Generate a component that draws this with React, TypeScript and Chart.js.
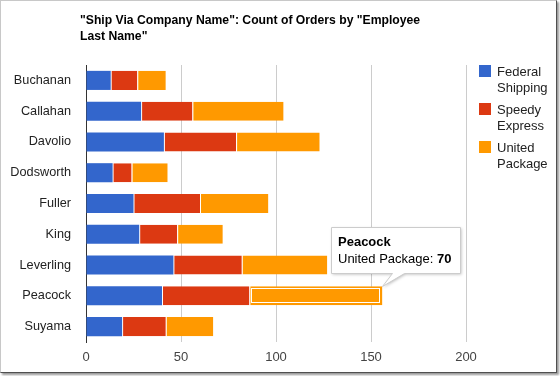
import React, { useEffect, useRef } from "react";
import { Chart, registerables } from "chart.js";

Chart.register(...registerables);

const titleLines = ['"Ship Via Company Name": Count of Orders by "Employee', 'Last Name"'];
const categories = ["Buchanan", "Callahan", "Davolio", "Dodsworth", "Fuller", "King", "Leverling", "Peacock", "Suyama"];
const federalShipping = [13, 29, 41, 14, 25, 28, 46, 40, 19];
const speedyExpress = [14, 27, 38, 10, 35, 20, 36, 46, 23];
const unitedPackage = [15, 48, 44, 19, 36, 24, 45, 70, 25];
const seriesNames = [["Federal", "Shipping"], ["Speedy", "Express"], ["United", "Package"]];
const seriesColors = ["#3366cc", "#dc3912", "#ff9900"];
const xTicks = [0, 50, 100, 150, 200];
const highlightSeries = 2;
const highlightIndex = 7;

const FONT = "Arial, 'Liberation Sans', sans-serif";

const overlayPlugin = {
  id: "overlay",
  afterDraw(chart: any) {
    const ctx = chart.ctx;
    ctx.save();
    // title
    ctx.fillStyle = "#000";
    ctx.font = `bold 12.2px ${FONT}`;
    ctx.textBaseline = "middle";
    ctx.textAlign = "left";
    titleLines.forEach((l, i) => ctx.fillText(l, 80, 21 + i * 16));
    // legend
    ctx.font = `13px ${FONT}`;
    seriesNames.forEach((lines, i) => {
      const y0 = 65 + i * 38;
      ctx.fillStyle = seriesColors[i];
      ctx.fillRect(479, y0, 12, 12);
      ctx.fillStyle = "#222";
      lines.forEach((l, j) => ctx.fillText(l, 497, y0 + 7 + j * 16));
    });
    // highlight
    const el = chart.getDatasetMeta(highlightSeries).data[highlightIndex];
    if (el) {
      const p = el.getProps(["x", "y", "base", "height"], true);
      const left = Math.min(p.x, p.base);
      const right = Math.max(p.x, p.base);
      const top = p.y - p.height / 2;
      const bottom = p.y + p.height / 2;
      ctx.strokeStyle = "#fff";
      ctx.lineWidth = 1;
      ctx.strokeRect(Math.round(left) + 2.5, Math.round(top) + 2.5, Math.round(right - left) - 5, Math.round(bottom - top) - 5);
      // tooltip
      const value = unitedPackage[highlightIndex];
      const bx = 331, by = 227, bw = 129, bh = 46;
      const tipX = Math.round(right), tipY = Math.round(top);
      ctx.shadowColor = "rgba(0,0,0,0.25)";
      ctx.shadowBlur = 3;
      ctx.shadowOffsetX = 1;
      ctx.shadowOffsetY = 1;
      ctx.beginPath();
      ctx.moveTo(bx + 0.5, by + 0.5);
      ctx.lineTo(bx + bw + 0.5, by + 0.5);
      ctx.lineTo(bx + bw + 0.5, by + bh + 0.5);
      ctx.lineTo(404.5, by + bh + 0.5);
      ctx.lineTo(tipX + 0.5, tipY + 0.5);
      ctx.lineTo(392.5, by + bh + 0.5);
      ctx.lineTo(bx + 0.5, by + bh + 0.5);
      ctx.closePath();
      ctx.fillStyle = "#fff";
      ctx.fill();
      ctx.shadowColor = "transparent";
      ctx.strokeStyle = "#cccccc";
      ctx.stroke();
      ctx.fillStyle = "#000";
      ctx.font = `bold 13px ${FONT}`;
      ctx.fillText(categories[highlightIndex], 338, 242);
      ctx.font = `13px ${FONT}`;
      const label = `${seriesNames[highlightSeries].join(" ")}: `;
      ctx.fillText(label, 338, 259);
      const w = ctx.measureText(label).width;
      ctx.font = `bold 13px ${FONT}`;
      ctx.fillText(String(value), 338 + w, 259);
    }
    ctx.restore();
  },
};

export default function App() {
  const ref = useRef<HTMLCanvasElement | null>(null);
  useEffect(() => {
    if (!ref.current) return;
    const mk = (label: string, data: number[], i: number) => ({
      label,
      data,
      backgroundColor: seriesColors[i],
      borderColor: "#ffffff",
      borderWidth: i === 0 ? 0 : { left: 1, right: 0, top: 0, bottom: 0 },
      borderSkipped: false,
      barPercentage: 1,
      categoryPercentage: 0.62,
    });
    const chart = new Chart(ref.current, {
      type: "bar",
      data: {
        labels: categories,
        datasets: [
          mk(seriesNames[0].join(" "), federalShipping, 0),
          mk(seriesNames[1].join(" "), speedyExpress, 1),
          mk(seriesNames[2].join(" "), unitedPackage, 2),
        ],
      },
      options: {
        indexAxis: "y",
        responsive: false,
        animation: false,
        devicePixelRatio: 1,
        events: [],
        layout: { padding: { left: 0, right: 94, top: 65, bottom: 10 } },
        plugins: { legend: { display: false }, title: { display: false }, tooltip: { enabled: false } },
        scales: {
          x: {
            stacked: true,
            min: 0,
            max: 200,
            afterBuildTicks: (s: any) => { s.ticks = xTicks.map((v) => ({ value: v })); },
            afterFit: (s: any) => { s.height = 24; },
            grid: { color: "#cccccc", drawTicks: false },
            border: { display: false },
            ticks: { color: "#444", font: { family: FONT, size: 13 }, padding: 8 },
          },
          y: {
            stacked: true,
            afterFit: (s: any) => { s.width = 86; },
            grid: { display: false, drawTicks: false },
            border: { display: true, color: "#333", width: 1 },
            ticks: { color: "#222", font: { family: FONT, size: 12.7 }, padding: 15 },
          },
        },
      } as any,
      plugins: [overlayPlugin],
    });
    return () => chart.destroy();
  }, []);
  return (
    <div style={{ position: "fixed", left: 0, top: 0, width: 560, height: 376, background: "#fff" }}>
      <div
        style={{
          position: "absolute",
          left: 0,
          top: 0,
          width: 555,
          height: 371,
          background: "#fff",
          borderLeft: "1px solid #c8c8c8",
          borderTop: "1px solid #c8c8c8",
          borderRight: "1px solid #505050",
          borderBottom: "1px solid #505050",
          boxShadow: "2px 2px 2px #999",
        }}
      />
      <canvas ref={ref} width={560} height={376} style={{ position: "absolute", left: 0, top: 0 }} />
    </div>
  );
}
